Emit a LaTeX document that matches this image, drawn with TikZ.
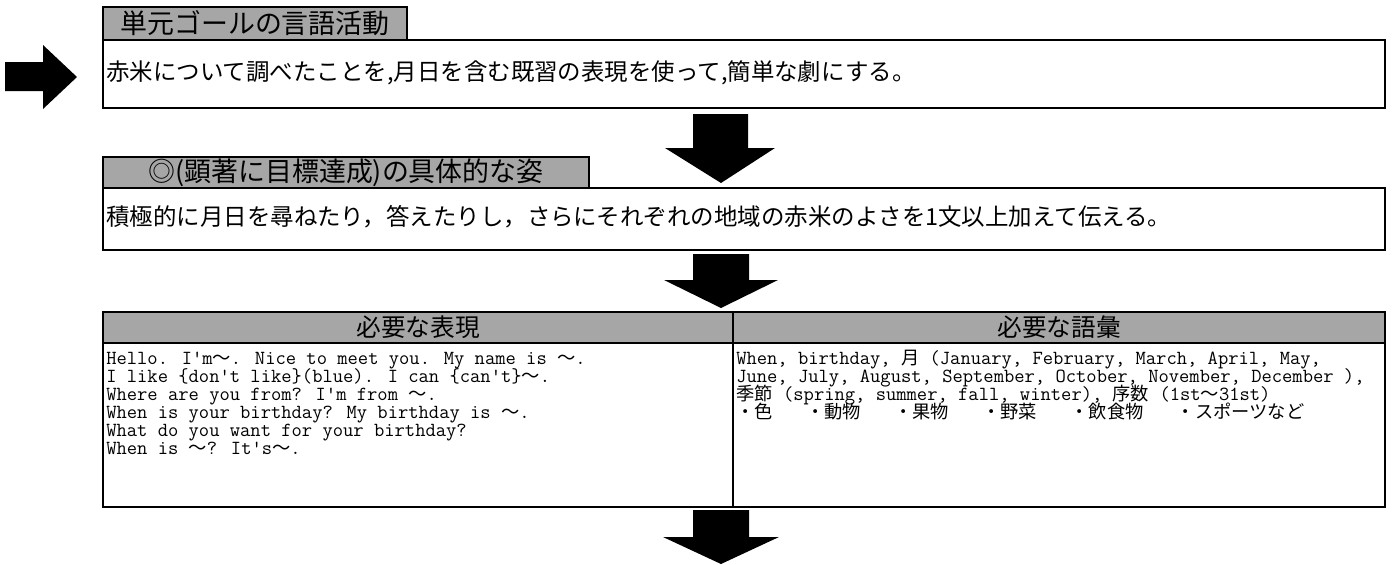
\documentclass[tikz,border=0pt]{standalone}
\usepackage{fontspec}
\setmainfont{Liberation Serif}
\newfontfamily\jpgothic{Noto Sans CJK JP}
\definecolor{tabgray}{HTML}{A6A6A6}
\newcommand{\jp}[1]{{\jpgothic\fontsize{13.7}{13.5}\selectfont #1}}
\tikzset{
    tabbox/.style={draw, line width=2.2pt, fill=tabgray},
    framebox/.style={draw, line width=2.2pt},
    blockarrow/.style={fill=black},
    tabtext/.style={font=\jpgothic\fontsize{20.2}{24}\selectfont, inner sep=0pt},
    boxtext/.style={anchor=west, font=\jpgothic\fontsize{17.6}{21}\selectfont, inner sep=0pt},
    headtext/.style={font=\jpgothic\fontsize{18.5}{21}\selectfont, inner sep=0pt},
    rowtext/.style={anchor=base west, font=\ttfamily\fontsize{15}{13.5}\selectfont, inner sep=0pt}
}
\begin{document}
\begin{tikzpicture}[x=0.75pt, y=-0.75pt]
            \useasboundingbox (0, 0) rectangle (1392, 564);

            %%unit goal
            \draw[framebox] (103, 40) rectangle (1385, 108);
            \draw[tabbox] (103, 7) rectangle (407, 40);
            \node[tabtext] (goaltitle) at (255, 23.5) {単元ゴールの言語活動};
            \node[boxtext] (goal) at (106, 73) {赤米について調べたことを,月日を含む既習の表現を使って,簡単な劇にする。};

            %%concrete image
            \draw[framebox] (103, 188) rectangle (1385, 250);
            \draw[tabbox] (103, 157) rectangle (589, 188);
            \node[tabtext] (imagetitle) at (346, 172.5) {◎(顕著に目標達成)の具体的な姿};
            \node[boxtext] (image) at (106, 217) {積極的に月日を尋ねたり，答えたりし，さらにそれぞれの地域の赤米のよさを1文以上加えて伝える。};

            %%table
            \fill[tabgray] (103, 312) rectangle (1385, 343);
            \draw[line width=2.2pt] (103, 343) to (1385, 343);
            \draw[line width=1.5pt] (733, 312) to (733, 507);
            \draw[framebox] (103, 312) rectangle (1385, 507);
            \node[headtext] (exphead) at (418, 327.5) {必要な表現};
            \node[headtext] (vochead) at (1059, 327.5) {必要な語彙};

            \node[rowtext] (exp1) at (106, 364) {Hello. I'm\jp{～}. Nice to meet you. My name is \jp{～}.};
            \node[rowtext] (exp2) at (106, 382) {I like \{don't like\}(blue). I can \{can't\}\jp{～}.};
            \node[rowtext] (exp3) at (106, 400) {Where are you from? I'm from \jp{～}.};
            \node[rowtext] (exp4) at (106, 418) {When is your birthday? My birthday is \jp{～}.};
            \node[rowtext] (exp5) at (106, 436) {What do you want for your birthday?};
            \node[rowtext] (exp6) at (106, 454) {When is \jp{～}? It's\jp{～}.};

            \node[rowtext] (voc1) at (736, 364) {When, birthday, \jp{月} (January, February, March, April, May,};
            \node[rowtext] (voc2) at (736, 382) {June, July, August, September, October, November, December ),};
            \node[rowtext] (voc3) at (736, 400) {\jp{季節} (spring, summer, fall, winter), \jp{序数} (1st\jp{～}31st)};
            \node[rowtext] (voc4) at (736, 418) {\jp{・色\hspace{25pt}・動物\hspace{25pt}・果物\hspace{25pt}・野菜\hspace{25pt}・飲食物\hspace{25pt}・スポーツなど}};

            %%arrows
            \fill[blockarrow] (5, 62) -- (43, 62) -- (43, 45) -- (77, 77) -- (43, 109) -- (43, 91) -- (5, 91) -- cycle;
            \fill[blockarrow] (693, 114) -- (748, 114) -- (748, 148) -- (775, 148) -- (721, 183) -- (665, 148) -- (693, 148) -- cycle;
            \fill[blockarrow] (693, 254) -- (749, 254) -- (749, 280) -- (778, 280) -- (721, 308) -- (664, 280) -- (693, 280) -- cycle;
            \fill[blockarrow] (693, 510) -- (749, 510) -- (749, 537) -- (779, 537) -- (721, 564) -- (663, 537) -- (693, 537) -- cycle;
        \end{tikzpicture}
\end{document}
